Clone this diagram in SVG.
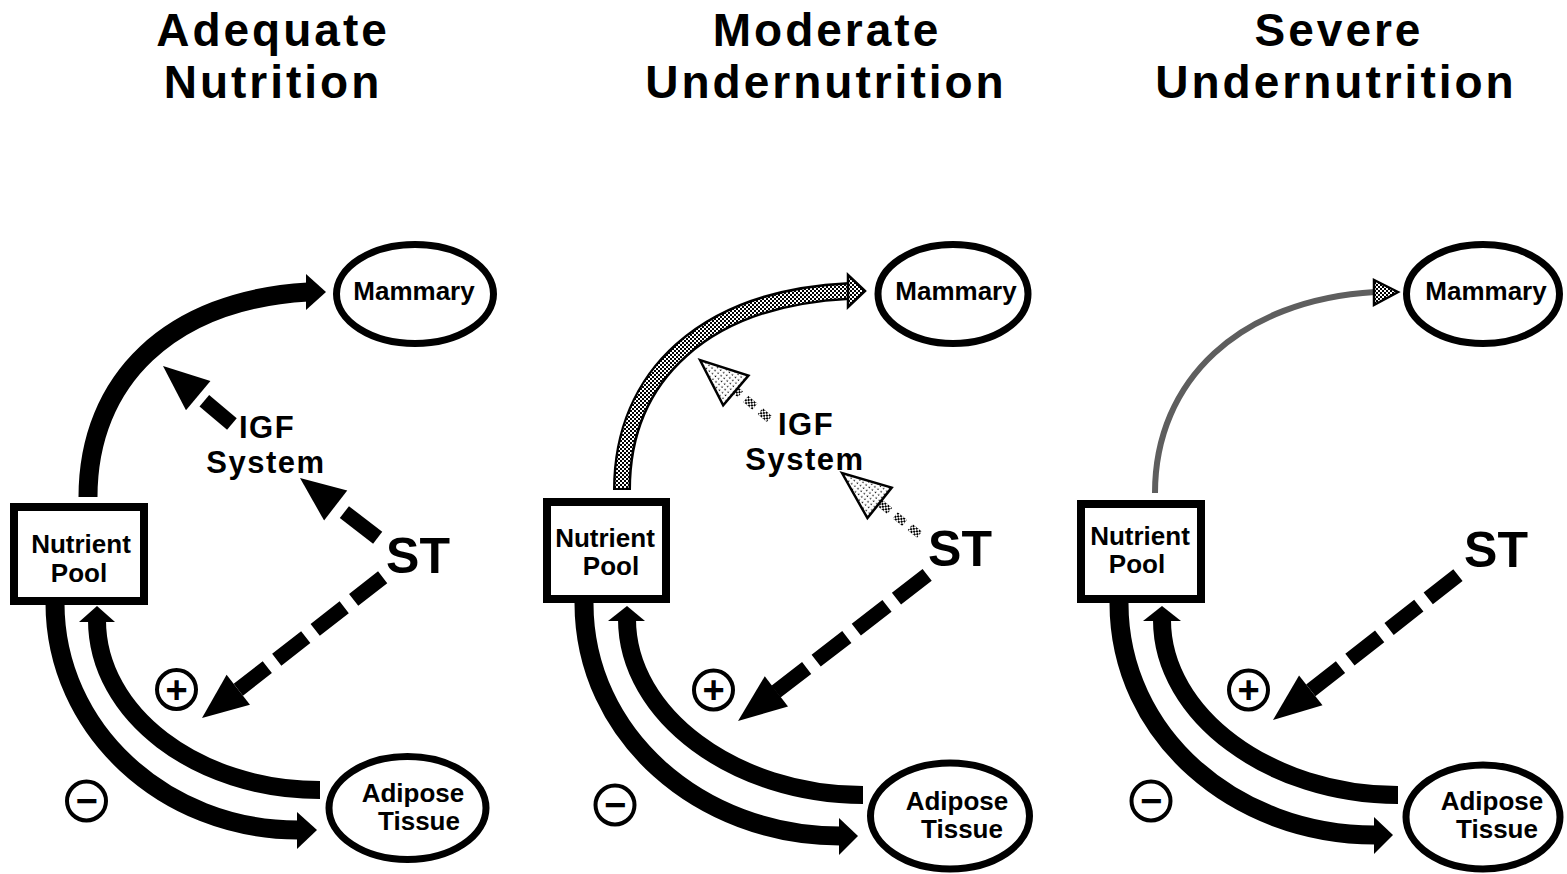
<svg xmlns="http://www.w3.org/2000/svg" width="1567" height="874" viewBox="0 0 1567 874">
<style>
.t{font-family:"Liberation Sans",Arial,Helvetica,sans-serif;font-weight:bold;text-anchor:middle;fill:#000}
.title{font-size:46px;letter-spacing:3px}
.lbl{font-size:26px}
.mid{font-size:31px;letter-spacing:1.5px}
.st{font-size:50px}
.sg{font-size:38px}
.node{fill:#fff;stroke:#000;stroke-width:7}
.box{fill:#fff;stroke:#000;stroke-width:8}
.flow{fill:none;stroke:#000;stroke-width:19}
.flowin{fill:none;stroke:#000;stroke-width:18}
.head{fill:#000;stroke:none}
.dash{fill:none;stroke:#000;stroke-width:15}
.ring{fill:#fff;stroke:#000;stroke-width:4}
.patflow{fill:none;stroke:url(#dark);stroke-width:13}
.patout{fill:none;stroke:#000;stroke-width:18}
.pathead{fill:url(#dark);stroke:#000;stroke-width:2.5;stroke-linejoin:miter}
.lighthead{fill:url(#light);stroke:#000;stroke-width:2.5}
.dotdash{fill:none;stroke:url(#dark);stroke-width:8;stroke-dasharray:12 7}
.thin{fill:none;stroke:#5e5e5e;stroke-width:6}
</style>
<defs>
<pattern id="dark" width="4" height="4" patternUnits="userSpaceOnUse">
<rect width="4" height="4" fill="#fff"/>
<rect x="0" y="0" width="2" height="2" fill="#000"/>
<rect x="2" y="2" width="2" height="2" fill="#000"/>
</pattern>
<pattern id="light" width="4" height="4" patternUnits="userSpaceOnUse">
<rect width="4" height="4" fill="#fff"/>
<rect x="1" y="1" width="1.3" height="1.3" fill="#000"/>
</pattern>
</defs>
<rect width="1567" height="874" fill="#fff"/>

<g id="titles">
<text class="t title" x="273" y="46">Adequate</text>
<text class="t title" x="273" y="98">Nutrition</text>
<text class="t title" x="827" y="46">Moderate</text>
<text class="t title" x="826" y="98">Undernutrition</text>
<text class="t title" x="1339" y="46">Severe</text>
<text class="t title" x="1336" y="98">Undernutrition</text>
</g>

<g id="connectors">
<!-- Panel 1 -->
<path class="flow" d="M88,497 C88,380 170,300 308,292"/>
<polygon class="head" points="326,292 306,274 306,310"/>
<path class="flow" d="M55,603 C55,729 164,830 298,830"/>
<polygon class="head" points="317,830 297,812 297,849"/>
<path class="flowin" d="M320,790 C197,790 97,714 97,620"/>
<polygon class="head" points="97,606 79,622 115,622"/>
<g transform="translate(163,366) rotate(-139.95)">
<line class="dash" x1="-90" y1="0" x2="-54" y2="0"/>
<polygon class="head" points="0,0 -46,-19 -46,19"/>
</g>
<g transform="translate(300,478) rotate(-142.43)">
<line class="dash" x1="-98" y1="0" x2="-56" y2="0"/>
<polygon class="head" points="0,0 -45,-19 -45,19"/>
</g>
<g transform="translate(202,718) rotate(142.08)">
<line class="dash" x1="-229" y1="0" x2="-46" y2="0" stroke-dasharray="36.75 12"/>
<polygon class="head" points="0,0 -46,-19 -46,19"/>
</g>

<!-- Panel 2 -->
<path class="patout" d="M622,490 C622,375 705,298 849,291"/>
<path class="patflow" d="M622,488 C622,375 705,298 850,291"/>
<polygon class="pathead" points="865,291 848,275 848,307"/>
<path class="flow" d="M584,603 C584,735 700,836 840,836"/>
<polygon class="head" points="858,836 839,818 839,855"/>
<path class="flowin" d="M863,795 C735,795 627,715 627,619"/>
<polygon class="head" points="627,606 608,621 645,621"/>
<g transform="translate(700,360) rotate(-139.64)">
<line class="dotdash" x1="-91" y1="0" x2="-47" y2="0"/>
<polygon class="lighthead" points="0,0 -47,-19.5 -47,19.5"/>
</g>
<g transform="translate(842,473) rotate(-141.52)">
<line class="dotdash" x1="-99" y1="0" x2="-48" y2="0"/>
<polygon class="lighthead" points="0,0 -48,-19.5 -48,19.5"/>
</g>
<g transform="translate(738,721) rotate(142.32)">
<line class="dash" x1="-239" y1="0" x2="-48" y2="0" stroke-dasharray="38.75 12"/>
<polygon class="head" points="0,0 -48.5,-19 -48.5,19"/>
</g>

<!-- Panel 3 -->
<path class="thin" d="M1155,493 C1155,380 1240,300 1375,292"/>
<polygon class="pathead" points="1398,292 1374,280 1374,305"/>
<path class="flow" d="M1119,603 C1119,735 1235,835 1375,835"/>
<polygon class="head" points="1393,835 1374,817 1374,854"/>
<path class="flowin" d="M1398,795 C1270,795 1162,715 1162,620"/>
<polygon class="head" points="1162,606 1143,621 1181,621"/>
<g transform="translate(1273,720) rotate(141.91)">
<line class="dash" x1="-235" y1="0" x2="-48" y2="0" stroke-dasharray="37.75 12"/>
<polygon class="head" points="0,0 -48,-19 -48,19"/>
</g>
</g>

<!-- Panel 1 nodes -->
<g id="p1-mammary">
<ellipse class="node" cx="415" cy="294" rx="78.5" ry="49.5"/>
<text class="t lbl" x="414" y="300">Mammary</text>
</g>
<g id="p1-pool">
<rect class="box" x="14" y="507" width="130" height="94"/>
<text class="t lbl" x="81" y="553">Nutrient</text>
<text class="t lbl" x="79" y="582">Pool</text>
</g>
<g id="p1-adipose">
<ellipse class="node" cx="407.5" cy="808" rx="78.5" ry="51.5"/>
<text class="t lbl" x="413" y="802">Adipose</text>
<text class="t lbl" x="419" y="830">Tissue</text>
</g>
<g id="p1-igf">
<text class="t mid" x="267" y="438">IGF</text>
<text class="t mid" x="266" y="473">System</text>
</g>
<g id="p1-st"><text class="t st" x="418" y="573">ST</text></g>
<g id="p1-plus"><circle class="ring" cx="176.5" cy="689.5" r="19.5"/><text class="t sg" x="176.5" y="702.5">+</text></g>
<g id="p1-minus"><circle class="ring" cx="86.5" cy="801" r="19.5"/><text class="t sg" x="86.5" y="814">−</text></g>

<!-- Panel 2 nodes -->
<g id="p2-mammary">
<ellipse class="node" cx="953" cy="294" rx="75" ry="49.5"/>
<text class="t lbl" x="956" y="300">Mammary</text>
</g>
<g id="p2-pool">
<rect class="box" x="547" y="502" width="119" height="97"/>
<text class="t lbl" x="605" y="547">Nutrient</text>
<text class="t lbl" x="611" y="575">Pool</text>
</g>
<g id="p2-adipose">
<ellipse class="node" cx="950" cy="816" rx="79.5" ry="53"/>
<text class="t lbl" x="957" y="810">Adipose</text>
<text class="t lbl" x="962" y="838">Tissue</text>
</g>
<g id="p2-igf">
<text class="t mid" x="806" y="435">IGF</text>
<text class="t mid" x="805" y="470">System</text>
</g>
<g id="p2-st"><text class="t st" x="960" y="566">ST</text></g>
<g id="p2-plus"><circle class="ring" cx="713.5" cy="690" r="19.5"/><text class="t sg" x="713.5" y="703">+</text></g>
<g id="p2-minus"><circle class="ring" cx="615" cy="805" r="19.5"/><text class="t sg" x="615" y="818">−</text></g>

<!-- Panel 3 nodes -->
<g id="p3-mammary">
<ellipse class="node" cx="1483" cy="294" rx="76.5" ry="49.5"/>
<text class="t lbl" x="1486" y="300">Mammary</text>
</g>
<g id="p3-pool">
<rect class="box" x="1081" y="504" width="120" height="95"/>
<text class="t lbl" x="1140" y="545">Nutrient</text>
<text class="t lbl" x="1137" y="573">Pool</text>
</g>
<g id="p3-adipose">
<ellipse class="node" cx="1483" cy="817" rx="77" ry="52"/>
<text class="t lbl" x="1492" y="810">Adipose</text>
<text class="t lbl" x="1497" y="838">Tissue</text>
</g>
<g id="p3-st"><text class="t st" x="1496" y="567">ST</text></g>
<g id="p3-plus"><circle class="ring" cx="1248.5" cy="690" r="19.5"/><text class="t sg" x="1248.5" y="703">+</text></g>
<g id="p3-minus"><circle class="ring" cx="1151" cy="801" r="19.5"/><text class="t sg" x="1151" y="814">−</text></g>
</svg>
